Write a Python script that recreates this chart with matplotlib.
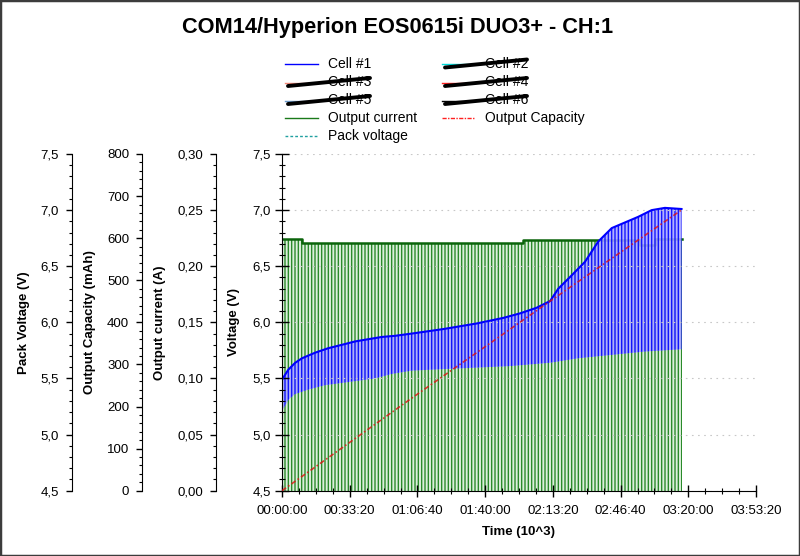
import matplotlib
matplotlib.use('Agg')
import numpy as np
import matplotlib.pyplot as plt
from matplotlib.ticker import MultipleLocator, FuncFormatter
from matplotlib.patches import Rectangle

plt.rcParams['font.family'] = ['Liberation Sans', 'DejaVu Sans']
plt.rcParams['hatch.linewidth'] = 1.0

# ---------------- data ----------------
title = "COM14/Hyperion EOS0615i DUO3+ - CH:1"

# Cell #1 voltage: top of the charge pulses (V)
time_upper_s = [0, 190, 390, 590, 980, 1370, 1770, 2160, 2550, 2950, 3340, 3830,
                4760, 5750, 6540, 7030, 7520, 7920, 8160, 8560, 8950, 9340,
                9740, 10130, 10520, 10920, 11310, 11800]
cell1_upper_v = [5.49, 5.58, 5.64, 5.68, 5.73, 5.77, 5.80, 5.83, 5.85, 5.87, 5.88, 5.90,
                 5.94, 5.99, 6.04, 6.08, 6.13, 6.19, 6.30, 6.42, 6.54, 6.72,
                 6.84, 6.89, 6.94, 7.00, 7.02, 7.01]
# Cell #1 voltage: bottom of the pulses (resting voltage, V)
time_lower_s = [0, 190, 380, 770, 1270, 1760, 2250, 2750, 3240, 3830, 5260, 6730,
                7920, 8750, 9740, 10720, 11800]
cell1_lower_v = [5.21, 5.31, 5.36, 5.40, 5.44, 5.46, 5.48, 5.50, 5.54, 5.57, 5.59, 5.61,
                 5.64, 5.68, 5.71, 5.74, 5.76]

# Output current pulse level (A), step-wise
time_current_s = [0, 600, 7120, 10580, 11020, 11800]
current_level_a = [0.224, 0.2205, 0.223, 0.219, 0.224, 0.224]

# Output capacity (mAh)
time_capacity_s = [0, 3780, 7770, 11800]
capacity_mah = [0, 217, 442, 667]

legend_labels = ["Cell #1", "Cell #2", "Cell #3", "Cell #4", "Cell #5", "Cell #6",
                 "Output current", "Output Capacity", "Pack voltage"]
legend_colors = ["#0000ff", "#00d8d8", "#f08878", "#ff2020", "#6a98c8", "#000000",
                 "#1a7a1a", "#ff2020", "#20a0a0"]
legend_struck = [False, True, True, True, True, True, False, False, False]

x_major_s = 2000
x_minor_s = 500
x_max_s = 14000

# ---------------- figure ----------------
fig = plt.figure(figsize=(8, 5.56), dpi=100)
fig.patch.set_facecolor('white')

ax = fig.add_axes([282 / 800, 1 - 490.7 / 556, 474 / 800, (490.7 - 154) / 556])
ax_cur = ax.twinx()
ax_cap = ax.twinx()
ax_pack = ax.twinx()

ax_pack.set_zorder(0)
ax_cur.set_zorder(1)
ax.set_zorder(2)
ax_cap.set_zorder(3)
for a in (ax, ax_cur, ax_cap, ax_pack):
    a.patch.set_visible(False)

# green current pulses
ax_cur.fill_between(time_current_s, 0, current_level_a, step='post',
                    facecolor='#dcefdc', edgecolor='#2a8a2a', hatch='|||||', lw=0)
ax_cur.step(time_current_s, current_level_a, where='post', color='#0b640b', lw=1.8)

# Cell #1 voltage band
band_t = list(time_upper_s) + list(time_lower_s[::-1])
band_v = list(cell1_upper_v) + list(cell1_lower_v[::-1])
ax.fill(band_t, band_v, facecolor='#a8a8ff', edgecolor='#0000ff', hatch='|||||',
        lw=0, alpha=0.88)
ax.plot(time_upper_s, cell1_upper_v, color='#0000ff', lw=1.5)

# output capacity
ax_cap.plot(time_capacity_s, capacity_mah, color='#e01010', lw=1.2, alpha=0.8,
            ls=(0, (3, 1.5, 1, 1.5)))

# ---------------- axes styling ----------------
comma1 = FuncFormatter(lambda v, p: f"{v:.1f}".replace('.', ','))
comma2 = FuncFormatter(lambda v, p: f"{v:.2f}".replace('.', ','))
intfmt = FuncFormatter(lambda v, p: f"{int(round(v))}")
timefmt = FuncFormatter(lambda v, p: f"{int(v)//3600:02d}:{int(v)%3600//60:02d}:{int(v)%60:02d}")

ax.set_xlim(0, x_max_s)
ax.set_ylim(4.5, 7.5)
ax.xaxis.set_major_locator(MultipleLocator(x_major_s))
ax.xaxis.set_minor_locator(MultipleLocator(x_minor_s))
ax.xaxis.set_major_formatter(timefmt)
ax.yaxis.set_major_locator(MultipleLocator(0.5))
ax.yaxis.set_minor_locator(MultipleLocator(0.1))
ax.yaxis.set_major_formatter(comma1)
ax.spines['top'].set_visible(False)
ax.spines['right'].set_visible(False)
ax.tick_params(axis='y', which='major', direction='inout', length=10, width=1,
               labelsize=9.5, pad=3)
ax.tick_params(axis='y', which='minor', direction='inout', length=4.5, width=0.8)
ax.tick_params(axis='x', which='major', direction='inout', length=8, width=1,
               labelsize=9.5, pad=6.5)
ax.tick_params(axis='x', which='minor', direction='inout', length=4.5, width=0.8)
ax.yaxis.grid(True, which='major', color='#c8c8c8', ls=(0, (1.5, 4)), lw=0.8)
ax.set_xlabel("Time (10^3)", fontsize=9.5, fontweight='bold', labelpad=6)
ax.set_ylabel("Voltage (V)", fontsize=9.5, fontweight='bold')
ax.yaxis.set_label_coords(-0.089, 0.5)

ax_cur.set_ylim(0, 0.30)
ax_cur.yaxis.set_major_locator(MultipleLocator(0.05))
ax_cur.yaxis.set_minor_locator(MultipleLocator(0.01))
ax_cur.yaxis.set_major_formatter(comma2)

ax_cap.set_ylim(0, 800)
ax_cap.yaxis.set_major_locator(MultipleLocator(100))
ax_cap.yaxis.set_minor_locator(MultipleLocator(20))
ax_cap.yaxis.set_major_formatter(intfmt)

ax_pack.set_ylim(4.5, 7.5)
ax_pack.yaxis.set_major_locator(MultipleLocator(0.5))
ax_pack.yaxis.set_minor_locator(MultipleLocator(0.1))
ax_pack.yaxis.set_major_formatter(comma1)

for a, off_px, lab, lx in ((ax_cur, 66, "Output current (A)", -0.244),
                           (ax_cap, 140, "Output Capacity (mAh)", -0.392),
                           (ax_pack, 210, "Pack Voltage (V)", -0.532)):
    for s in ('right', 'top', 'bottom'):
        a.spines[s].set_visible(False)
    a.spines['left'].set_visible(True)
    a.spines['left'].set_position(('outward', off_px * 0.72))
    a.yaxis.set_ticks_position('left')
    a.yaxis.set_label_position('left')
    a.tick_params(axis='y', which='major', direction='out', length=4.3, width=1,
                  labelsize=9.5, pad=5)
    a.tick_params(axis='y', which='minor', direction='out', length=2.4, width=0.8)
    a.set_ylabel(lab, fontsize=9.5, fontweight='bold')
    a.yaxis.set_label_coords(lx, 0.5)

# ---------------- legend (drawn in pixel space) ----------------
lax = fig.add_axes([0, 0, 1, 1], zorder=10)
lax.set_xlim(0, 800)
lax.set_ylim(556, 0)
lax.axis('off')
col_handle_x = [(285, 318), (442, 474)]
col_text_x = [328, 485]
row_y = [64, 82.5, 100.5, 118.3, 136]
legend_styles = ['-', '-', '-', '-', '-', '-', '-', (0, (3, 1, 1, 1)), (0, (2, 1.5))]
for i, lab in enumerate(legend_labels):
    r, c = divmod(i, 2)
    y = row_y[r]
    x0, x1 = col_handle_x[c]
    lax.plot([x0, x1], [y, y], color=legend_colors[i], lw=1.0, ls=legend_styles[i])
    lax.text(col_text_x[c], y, lab, fontsize=10, va='center', ha='left')
    if legend_struck[i]:
        lax.plot([x0 + 3, x0 + 85], [y + 3.5, y - 4.5], color='black', lw=2.8,
                 solid_capstyle='round')

fig.text(398 / 800, 1 - 27.5 / 556, title, ha='center', va='center',
         fontsize=15.7, fontweight='bold')

fig.patches.append(Rectangle((0, 0), 1, 1, transform=fig.transFigure, fill=False,
                             edgecolor='#3c3c3c', lw=2.5))

fig.savefig('out.png', dpi=100)
